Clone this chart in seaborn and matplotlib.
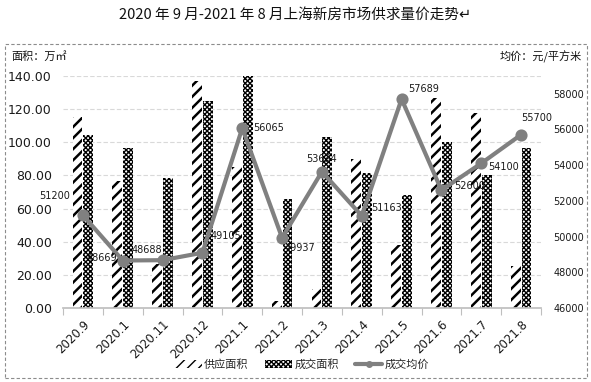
import matplotlib
matplotlib.use("Agg")
import matplotlib.pyplot as plt
import matplotlib.patches as mpatches
import matplotlib.transforms as mtransforms
from matplotlib.lines import Line2D
import numpy as np
import pandas as pd
import seaborn as sns

# data
months = ['2020.9', '2020.1', '2020.11', '2020.12', '2021.1', '2021.2',
          '2021.3', '2021.4', '2021.5', '2021.6', '2021.7', '2021.8']
supply = [115.3, 76.8, 26.5, 136.8, 85.0, 4.6, 11.8, 89.7, 37.9, 126.6, 117.4, 25.6]
deal = [104.5, 96.5, 78.6, 125.0, 139.8, 66.0, 103.3, 81.6, 68.4, 100.3, 80.4, 96.7]
price = [51200, 48669, 48688, 49105, 56065, 49937, 53634, 51163, 57689, 52600, 54100, 55700]
series = ['供应面积', '成交面积', '成交均价']

# label offsets (points) for the price annotations
label_offsets = [(-9, 14, 'right'), (-4, 2, 'right'), (0, 7, 'right'), (6, 12, 'left'),
                 (8, 0, 'left'), (2, -7, 'left'), (0, 9, 'center'), (7, 6, 'left'),
                 (5, 7, 'left'), (9, 3, 'left'), (5, -3, 'left'), (0, 12, 'left')]

sns.set_theme(style='white')
plt.rcParams['font.family'] = ['Noto Sans CJK SC', 'DejaVu Sans']
plt.rcParams['axes.unicode_minus'] = False

df_bar = pd.DataFrame({
    'month': months * 2,
    'area': supply + deal,
    'kind': [series[0]] * len(months) + [series[1]] * len(months),
})
df_line = pd.DataFrame({'month': months, 'price': price})

fig = plt.figure(figsize=(5.91, 3.82), dpi=100)
ax = fig.add_axes([0.1066, 0.193, 0.8088, 0.609])

sns.barplot(data=df_bar, x='month', y='area', hue='kind', order=months,
            hue_order=series[:2], width=0.55, gap=0.1, ax=ax, legend=False)

hatches = ['///', 'xxxxxxx']
hatch_lw = [1.8, 1.0]
for cont, h, hl in zip(ax.containers, hatches, hatch_lw):
    for p in cont:
        p.set_facecolor('white')
        p.set_edgecolor('black')
        p.set_linewidth(0)
        p.set_hatch(h)
        if hasattr(p, 'set_hatch_linewidth'):
            p.set_hatch_linewidth(hl)

ax.set_ylim(0, 140)
ax.set_yticks(np.arange(0, 141, 20))
ax.set_yticklabels([f'{v:.2f}' for v in np.arange(0, 141, 20)], fontsize=9,
                   color='#1a1a1a', family='DejaVu Sans')
ax.grid(axis='y', color='#d9d9d9', linestyle=(0, (4, 2)), linewidth=0.8)
ax.set_axisbelow(True)
ax.set_xlabel('')
ax.set_ylabel('')
for s in ['top', 'right', 'left']:
    ax.spines[s].set_visible(False)
ax.spines['bottom'].set_color('#bfbfbf')
ax.tick_params(axis='y', length=0, pad=8)

ax2 = ax.twinx()
sns.pointplot(data=df_line, x='month', y='price', order=months, ax=ax2,
              color='#808080', markers='o', linewidth=3, markersize=6.5)
ax2.set_ylim(46000, 59000)
ax2.set_yticks(np.arange(46000, 58001, 2000))
ax2.set_yticklabels([str(v) for v in range(46000, 58001, 2000)], fontsize=7,
                    color='#1a1a1a', family='DejaVu Sans')
ax2.tick_params(axis='y', length=0, pad=9)
ax2.set_xlabel('')
ax2.set_ylabel('')
for s in ax2.spines.values():
    s.set_visible(False)

for i, (v, (dx, dy, ha)) in enumerate(zip(price, label_offsets)):
    ax2.annotate(str(v), (i, v), xytext=(dx, dy), textcoords='offset points',
                 ha=ha, va='center', fontsize=7, color='#1a1a1a', family='DejaVu Sans')

# x axis: category boundaries as ticks, rotated labels
ax.set_xlim(-0.5, len(months) - 0.5)
ax.set_xticks(np.arange(len(months)))
ax.set_xticklabels(months, rotation=45, ha='right', va='top', rotation_mode='anchor',
                   fontsize=8.5, color='#1a1a1a', family='DejaVu Sans')
shift = mtransforms.ScaledTranslation(-2 / 72, 0, fig.dpi_scale_trans)
for lbl in ax.get_xticklabels():
    lbl.set_transform(lbl.get_transform() + shift)
ax.set_xticks(np.arange(-0.5, len(months)), minor=True)
ax.tick_params(axis='x', which='major', length=0, pad=7)
ax.tick_params(axis='x', which='minor', length=5, color='#bfbfbf', width=0.8, bottom=True)

fig.text(0.5, 0.962, '2020 年 9 月-2021 年 8 月上海新房市场供求量价走势↵', ha='center',
         va='center', fontsize=10.5, color='#111111')
fig.text(0.019, 0.852, '面积：万㎡', ha='left', va='center', fontsize=8, color='#111111')
fig.text(0.985, 0.852, '均价：元/平方米', ha='right', va='center', fontsize=8, color='#111111')

handles = [
    mpatches.Patch(facecolor='white', edgecolor='black', linewidth=0, hatch='///'),
    mpatches.Patch(facecolor='white', edgecolor='black', linewidth=0, hatch='xxxxxxx'),
    Line2D([], [], color='#808080', linewidth=3, marker='o', markersize=4),
]
fig.legend(handles, series, loc='center', bbox_to_anchor=(0.511, 0.045), ncol=3,
           frameon=False, fontsize=8, handlelength=2.4, handleheight=0.7,
           columnspacing=1.5, handletextpad=0.2)

fig.patches.append(mpatches.Rectangle((0.0085, 0.01), 0.985, 0.876, transform=fig.transFigure,
                                      fill=False, edgecolor='#8c8c8c', linestyle=(0, (3, 2)),
                                      linewidth=0.8))

fig.savefig('out.png', dpi=100)
